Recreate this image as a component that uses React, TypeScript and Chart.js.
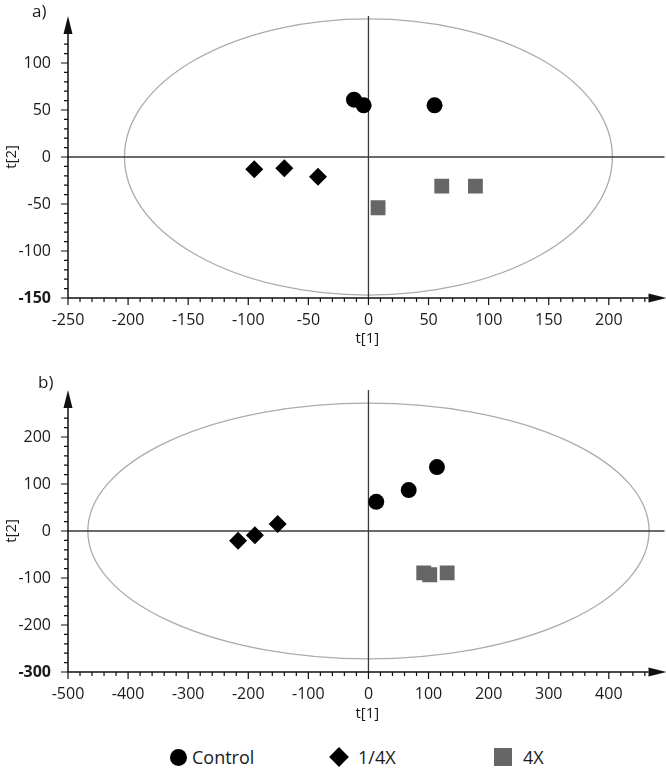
import React, { useEffect, useRef } from 'react';
import { Chart, registerables } from 'chart.js';
Chart.register(...registerables);

// ---- Panel a) data ----
const aControlX = [-12, -4, 55];
const aControlY = [61, 55, 55];
const aQuarterX = [-95, -70, -42];
const aQuarterY = [-13, -12, -21];
const aFourX = [8, 61, 89];
const aFourY = [-54, -31, -31];

// ---- Panel b) data ----
const bControlX = [13, 67, 114];
const bControlY = [62, 87, 136];
const bQuarterX = [-217, -189, -151];
const bQuarterY = [-21, -9, 15];
const bFourX = [92, 102, 131];
const bFourY = [-89, -93, -89];

// tick labels
const aXTicks = [-250, -200, -150, -100, -50, 0, 50, 100, 150, 200];
const aYTicks = [-150, -100, -50, 0, 50, 100];
const bXTicks = [-500, -400, -300, -200, -100, 0, 100, 200, 300, 400];
const bYTicks = [-300, -200, -100, 0, 100, 200];

const legendLabels = ['Control', '1/4X', '4X'];
const FONT = '"Open Sans", "DejaVu Sans", sans-serif';

const zip = (xs: number[], ys: number[]) => xs.map((x, i) => ({ x, y: ys[i] }));

const axesPlugin = {
  id: 'pcaAxes',
  beforeDatasetsDraw(chart: any) {
    const p = chart.options.plugins.pcaAxes;
    const { ctx, chartArea } = chart;
    const xs = chart.scales.x;
    const ys = chart.scales.y;
    const { left, right, top, bottom } = chartArea;
    const cx = xs.getPixelForValue(0);
    const cy = ys.getPixelForValue(0);
    ctx.save();
    // ellipse
    const rx = Math.abs(xs.getPixelForValue(p.ellA) - cx);
    const ry = Math.abs(ys.getPixelForValue(p.ellB) - cy);
    ctx.beginPath();
    ctx.ellipse(cx, cy, rx, ry, 0, 0, Math.PI * 2);
    ctx.strokeStyle = '#ababab';
    ctx.lineWidth = 1.3;
    ctx.stroke();
    // zero lines
    ctx.strokeStyle = '#3a3a3a';
    ctx.lineWidth = 1.3;
    ctx.beginPath();
    ctx.moveTo(left, cy);
    ctx.lineTo(right - 2, cy);
    ctx.moveTo(cx, bottom);
    ctx.lineTo(cx, top);
    ctx.stroke();
    // axes
    const arrowLen = 18;
    const arrowW = 4.5;
    ctx.strokeStyle = '#111';
    ctx.fillStyle = '#111';
    ctx.lineWidth = 1.5;
    ctx.beginPath();
    ctx.moveTo(left, bottom);
    ctx.lineTo(left, top + arrowLen);
    ctx.moveTo(left, bottom);
    ctx.lineTo(right - arrowLen, bottom);
    ctx.stroke();
    ctx.beginPath();
    ctx.moveTo(left, top);
    ctx.lineTo(left - arrowW, top + arrowLen);
    ctx.lineTo(left + arrowW, top + arrowLen);
    ctx.closePath();
    ctx.fill();
    ctx.beginPath();
    ctx.moveTo(right, bottom);
    ctx.lineTo(right - arrowLen, bottom - arrowW);
    ctx.lineTo(right - arrowLen, bottom + arrowW);
    ctx.closePath();
    ctx.fill();
    // ticks
    ctx.lineWidth = 1.2;
    ctx.beginPath();
    for (let v = xs.min; v <= xs.max; v += p.xMinor) {
      const px = xs.getPixelForValue(v);
      if (px > right - arrowLen - 2) break;
      const len = Math.round(v) % p.xMajor === 0 ? 7 : 4;
      ctx.moveTo(px, bottom);
      ctx.lineTo(px, bottom + len);
    }
    for (let v = ys.min; v <= ys.max; v += p.yMinor) {
      const py = ys.getPixelForValue(v);
      if (py < top + arrowLen + 2) break;
      const len = Math.round(v) % p.yMajor === 0 ? 7 : 4;
      ctx.moveTo(left, py);
      ctx.lineTo(left - len, py);
    }
    ctx.stroke();
    ctx.restore();
  },
};

type PanelProps = {
  width: number;
  height: number;
  padTop: number;
  xMin: number;
  xMax: number;
  yMin: number;
  yMax: number;
  xTicks: number[];
  yTicks: number[];
  xMajor: number;
  xMinor: number;
  yMajor: number;
  yMinor: number;
  ellA: number;
  ellB: number;
  control: { x: number; y: number }[];
  quarter: { x: number; y: number }[];
  four: { x: number; y: number }[];
  xAxisH: number;
  titlePadBottom: number;
};

function Panel(props: PanelProps) {
  const ref = useRef<HTMLCanvasElement | null>(null);
  useEffect(() => {
    if (!ref.current) return;
    const tickFont = (ctx: any) => ({
      family: FONT,
      size: 16,
      weight: ctx.tick && ctx.tick.value === props.yMin ? 'bold' : 'normal',
    });
    const chart = new Chart(ref.current, {
      type: 'scatter',
      data: {
        datasets: [
          {
            label: legendLabels[0],
            data: props.control,
            pointStyle: 'circle',
            pointRadius: 8,
            backgroundColor: '#000',
            borderColor: '#000',
            borderWidth: 0,
          },
          {
            label: legendLabels[1],
            data: props.quarter,
            pointStyle: 'rectRot',
            pointRadius: 9,
            backgroundColor: '#000',
            borderColor: '#000',
            borderWidth: 0,
          },
          {
            label: legendLabels[2],
            data: props.four,
            pointStyle: 'rect',
            pointRadius: 10.5,
            backgroundColor: '#666666',
            borderColor: '#666666',
            borderWidth: 0,
          },
        ],
      },
      options: {
        animation: false,
        responsive: false,
        maintainAspectRatio: false,
        layout: { padding: { top: props.padTop, right: 0, left: 0, bottom: 0 } },
        plugins: {
          legend: { display: false },
          tooltip: { enabled: false },
          // @ts-ignore
          pcaAxes: {
            ellA: props.ellA,
            ellB: props.ellB,
            xMajor: props.xMajor,
            xMinor: props.xMinor,
            yMajor: props.yMajor,
            yMinor: props.yMinor,
          },
        },
        scales: {
          x: {
            type: 'linear',
            min: props.xMin,
            max: props.xMax,
            grid: { display: false },
            border: { display: false },
            afterBuildTicks: (s: any) => {
              s.ticks = props.xTicks.map((v) => ({ value: v }));
            },
            afterFit: (s: any) => {
              s.height = props.xAxisH;
              s.paddingLeft = 0;
              s.paddingRight = 0;
            },
            ticks: {
              autoSkip: false,
              maxRotation: 0,
              padding: 5,
              color: '#1a1a1a',
              font: { family: FONT, size: 16 },
              callback: (v: any) => String(v),
            },
            title: {
              display: true,
              text: 't[1]',
              color: '#1a1a1a',
              font: { family: FONT, size: 15 },
              padding: { top: 0, bottom: props.titlePadBottom },
            },
          },
          y: {
            type: 'linear',
            min: props.yMin,
            max: props.yMax,
            grid: { display: false },
            border: { display: false },
            afterBuildTicks: (s: any) => {
              s.ticks = props.yTicks.map((v) => ({ value: v }));
            },
            afterFit: (s: any) => {
              s.width = 68;
              s.paddingTop = 0;
              s.paddingBottom = 0;
            },
            ticks: {
              autoSkip: false,
              padding: 9,
              color: '#1a1a1a',
              font: tickFont as any,
              callback: (v: any) => String(v),
            },
            title: {
              display: true,
              text: 't[2]',
              color: '#1a1a1a',
              font: { family: FONT, size: 15 },
              padding: { top: 3, bottom: 0 },
            },
          },
        },
      },
      plugins: [axesPlugin as any],
    });
    return () => chart.destroy();
  }, []);
  return <canvas ref={ref} width={props.width} height={props.height} style={{ display: 'block' }} />;
}

function LegendItem({ kind, label, x, textX }: { kind: string; label: string; x: number; textX: number }) {
  let shape: React.CSSProperties = {};
  if (kind === 'circle') {
    shape = { width: 17, height: 17, borderRadius: '50%', background: '#000', left: x - 8.5, top: 748.5 };
  } else if (kind === 'diamond') {
    shape = { width: 14, height: 14, background: '#000', transform: 'rotate(45deg)', left: x - 7, top: 750 };
  } else {
    shape = { width: 18, height: 18, background: '#666', left: x - 9, top: 748 };
  }
  return (
    <>
      <div style={{ position: 'absolute', ...shape }} />
      <div
        style={{
          position: 'absolute',
          left: textX,
          top: 744,
          fontFamily: FONT,
          fontSize: 18,
          lineHeight: '26px',
          color: '#1a1a1a',
        }}
      >
        {label}
      </div>
    </>
  );
}

export default function App() {
  useEffect(() => {
    document.body.style.margin = '0';
  }, []);
  return (
    <div style={{ position: 'relative', width: 666, height: 777, background: '#fff', overflow: 'hidden' }}>
      <div style={{ position: 'absolute', left: 0, top: 0 }}>
        <Panel
          width={677}
          height={358}
          padTop={16}
          xMin={-250}
          xMax={248}
          yMin={-150}
          yMax={150}
          xTicks={aXTicks}
          yTicks={aYTicks}
          xMajor={50}
          xMinor={10}
          yMajor={50}
          yMinor={10}
          ellA={203}
          ellB={147}
          control={zip(aControlX, aControlY)}
          quarter={zip(aQuarterX, aQuarterY)}
          four={zip(aFourX, aFourY)}
          xAxisH={60}
          titlePadBottom={10}
        />
      </div>
      <div style={{ position: 'absolute', left: 0, top: 360 }}>
        <Panel
          width={677}
          height={376}
          padTop={30}
          xMin={-500}
          xMax={496}
          yMin={-300}
          yMax={300}
          xTicks={bXTicks}
          yTicks={bYTicks}
          xMajor={100}
          xMinor={20}
          yMajor={100}
          yMinor={20}
          ellA={467}
          ellB={272}
          control={zip(bControlX, bControlY)}
          quarter={zip(bQuarterX, bQuarterY)}
          four={zip(bFourX, bFourY)}
          xAxisH={64}
          titlePadBottom={13}
        />
      </div>
      <div style={{ position: 'absolute', left: 32, top: 0, fontFamily: FONT, fontSize: 17, lineHeight: '22px', color: '#1a1a1a' }}>a)</div>
      <div style={{ position: 'absolute', left: 38, top: 371, fontFamily: FONT, fontSize: 17, lineHeight: '22px', color: '#1a1a1a' }}>b)</div>
      <LegendItem kind="circle" label={legendLabels[0]} x={178} textX={192} />
      <LegendItem kind="diamond" label={legendLabels[1]} x={339} textX={358} />
      <LegendItem kind="square" label={legendLabels[2]} x={503} textX={523} />
    </div>
  );
}
